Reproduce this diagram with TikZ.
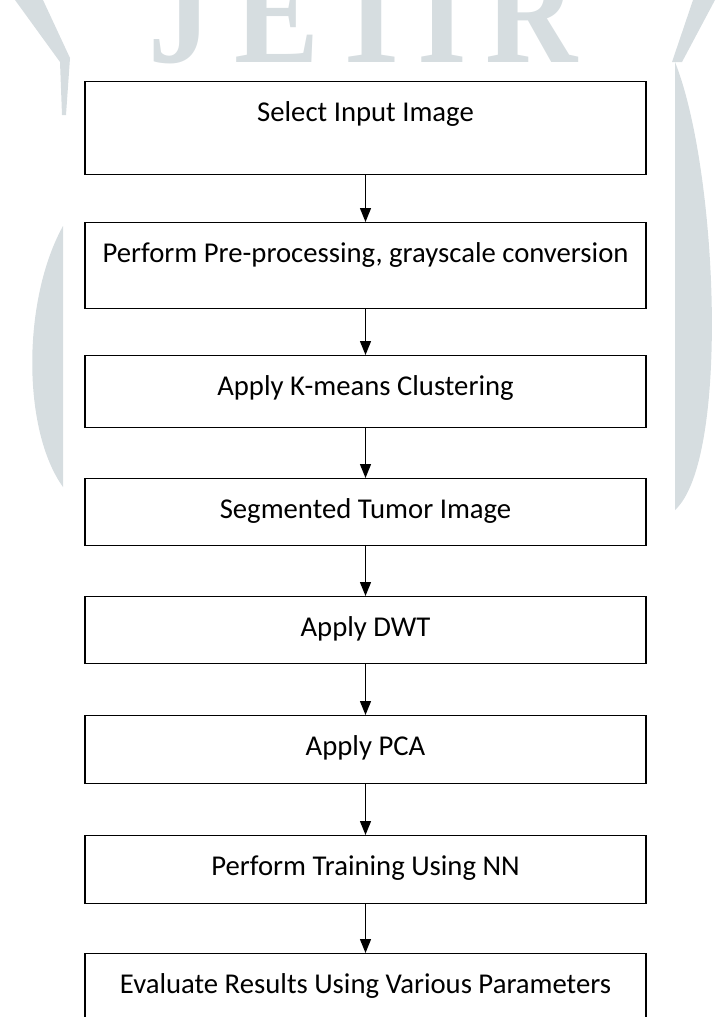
\documentclass[tikz,border=0pt]{standalone}
\usepackage{fontspec}
\setmainfont{Carlito}
\newfontfamily\markfont{Liberation Serif}
\usetikzlibrary{arrows.meta}

\definecolor{markgray}{RGB}{214,221,224}
\newcommand{\narrowmark}[1]{\scalebox{0.85}[1]{#1}}
\tikzset{
  stepbox/.style={draw, line width=1.4pt, minimum width=561pt, inner sep=0pt,
    anchor=north, text height=40pt, font=\fontsize{28.7}{34}\selectfont},
  flow/.style={-{Triangle[width=11pt,length=14pt]}, line width=1.3pt},
  markletter/.style={anchor=base, inner sep=0pt, text=markgray,
    font=\markfont\bfseries\fontsize{150}{150}\selectfont}
}

\begin{document}
\begin{tikzpicture}[x=1pt, y=-1pt]
    \useasboundingbox (0, 0) rectangle (715, 1017);
    \clip (0, 0) rectangle (715, 1017);
    % watermark
    \fill[markgray] (15, 0) -- (43, 0) -- (70, 58) -- (66, 115) -- (62, 115) -- (60, 62) -- cycle;
    \fill[markgray] (63, 226) .. controls (22, 300) and (22, 430) .. (63, 487) -- cycle;
    \fill[markgray] (693, 0) -- (715, 0) -- (682, 62) -- (672, 62) -- cycle;
    \fill[markgray] (675, 62) .. controls (718, 170) and (730, 460) .. (675, 510) -- cycle;
    \node[markletter] (Mark J) at (180, 62) {\narrowmark{J}};
    \node[markletter] (Mark E) at (277, 62) {\narrowmark{E}};
    \node[markletter] (Mark T) at (372, 62) {\narrowmark{T}};
    \node[markletter] (Mark I) at (442, 62) {\narrowmark{I}};
    \node[markletter] (Mark R) at (532, 62) {\narrowmark{R}};
    % flow steps
    \node[stepbox, text depth=53pt] (Select) at (365.5, 81) {Select Input Image};
    \node[stepbox, text depth=46pt] (Preprocess) at (365.5, 222) {Perform Pre-processing, grayscale conversion};
    \node[stepbox, text depth=32pt] (Kmeans) at (365.5, 355) {Apply K-means Clustering};
    \node[stepbox, text depth=27pt] (Segmented) at (365.5, 478) {Segmented Tumor Image};
    \node[stepbox, text depth=27pt] (DWT) at (365.5, 596) {Apply DWT};
    \node[stepbox, text depth=28pt] (PCA) at (365.5, 715) {Apply PCA};
    \node[stepbox, text depth=28pt] (Training) at (365.5, 835) {Perform Training Using NN};
    \node[stepbox, text depth=60pt] (Evaluate) at (365.5, 953) {Evaluate Results Using Various Parameters};
    \draw[flow] (Select) -- (Preprocess);
    \draw[flow] (Preprocess) -- (Kmeans);
    \draw[flow] (Kmeans) -- (Segmented);
    \draw[flow] (Segmented) -- (DWT);
    \draw[flow] (DWT) -- (PCA);
    \draw[flow] (PCA) -- (Training);
    \draw[flow] (Training) -- (Evaluate);
\end{tikzpicture}
\end{document}
